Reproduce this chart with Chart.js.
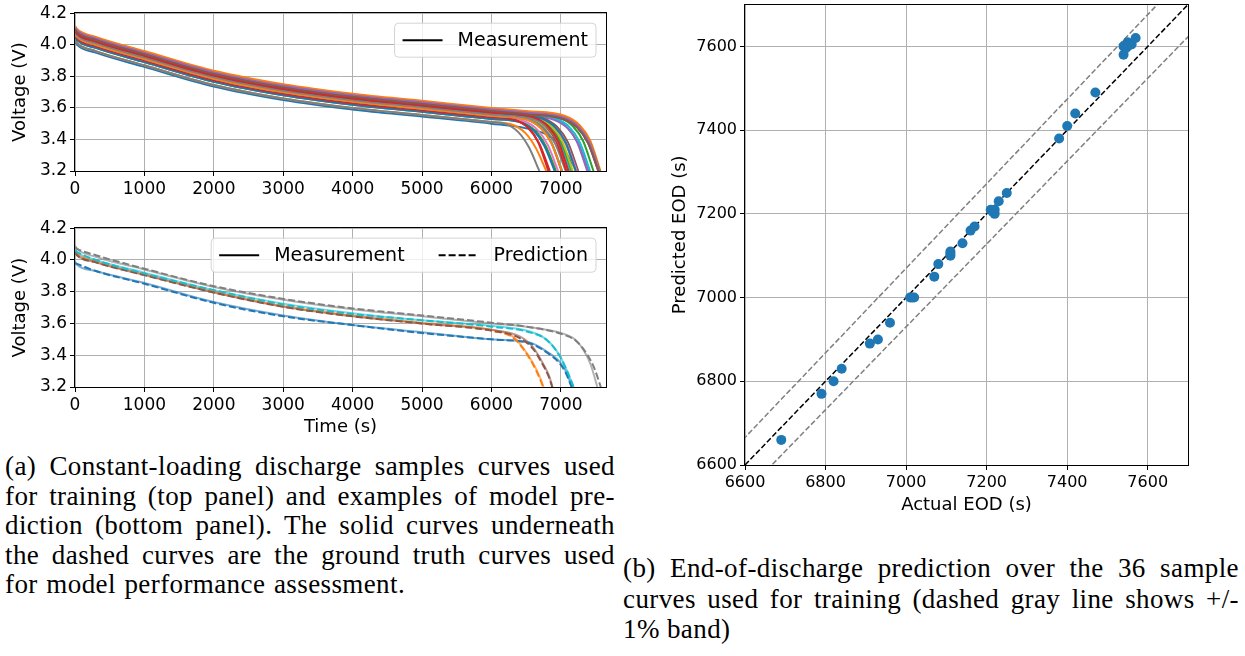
<!DOCTYPE html>
<html>
<head>
<meta charset="utf-8">
<script src="https://cdn.jsdelivr.net/npm/chart.js@4.4.1/dist/chart.umd.min.js"></script>
<style>
  html, body { margin: 0; padding: 0; background: #fff; }
  body { position: relative; width: 1245px; height: 656px; overflow: hidden; }
  canvas { position: absolute; }
  #train { left: 0; top: 0; }
  #test { left: 0; top: 215px; }
  #eod { left: 660px; top: -8px; }
  .cap { position: absolute; font-family: "Liberation Serif", "Times New Roman", serif; font-size: 27px; letter-spacing: 0.4px; line-height: 29.5px; color: #000; }
  .cap .j { text-align: justify; text-align-last: justify; }
  .cap .end { word-spacing: 1.5px; }
  #capA { left: 5px; top: 452px; width: 610px; }
  #capB { left: 623px; top: 553px; width: 616px; line-height: 30.5px; }
</style>
</head>
<body>
<canvas id="train" width="620" height="200"></canvas>
<canvas id="test" width="620" height="225"></canvas>
<canvas id="eod" width="545" height="525"></canvas>

<div class="cap" id="capA">
  <div class="j">(a) Constant-loading discharge samples curves used</div>
  <div class="j">for training (top panel) and examples of model pre-</div>
  <div class="j">diction (bottom panel). The solid curves underneath</div>
  <div class="j">the dashed curves are the ground truth curves used</div>
  <div class="end">for model performance assessment.</div>
</div>
<div class="cap" id="capB">
  <div class="j">(b) End-of-discharge prediction over the 36 sample</div>
  <div class="j">curves used for training (dashed gray line shows +/-</div>
  <div>1% band)</div>
</div>

<script>
// matplotlib default colour cycle
const tab10 = ['#1f77b4', '#ff7f0e', '#2ca02c', '#d62728', '#9467bd',
               '#8c564b', '#e377c2', '#7f7f7f', '#bcbd22', '#17becf'];

// axis ticks
const timeTicks = [0, 1000, 2000, 3000, 4000, 5000, 6000, 7000];
const voltTicks = [3.2, 3.4, 3.6, 3.8, 4.0, 4.2];
const eodTicks = [6600, 6800, 7000, 7200, 7400, 7600];

// time stamps (s) shared by the first part of every discharge curve
const headTimes = [0, 30, 300, 1000, 2000, 3000, 4000, 5000, 6000];

// training curves: voltage at headTimes, then the knee as [time, voltage]
const trainHeads = [
  [4.02, 4.00, 3.95, 3.86, 3.735, 3.65, 3.59, 3.545, 3.50],
  [4.03, 4.01, 3.96, 3.87, 3.745, 3.66, 3.60, 3.555, 3.51],
  [4.05, 4.03, 3.98, 3.89, 3.765, 3.68, 3.62, 3.575, 3.53],
  [4.07, 4.05, 4.00, 3.91, 3.785, 3.70, 3.64, 3.595, 3.55],
  [4.09, 4.07, 4.02, 3.93, 3.805, 3.72, 3.66, 3.615, 3.57],
  [4.08, 4.06, 4.01, 3.92, 3.795, 3.71, 3.65, 3.605, 3.56],
  [4.06, 4.04, 3.99, 3.90, 3.775, 3.69, 3.63, 3.585, 3.54],
  [4.03, 4.01, 3.96, 3.87, 3.745, 3.66, 3.60, 3.555, 3.51],
  [4.07, 4.05, 4.00, 3.91, 3.785, 3.70, 3.64, 3.595, 3.55],
  [4.08, 4.06, 4.01, 3.92, 3.795, 3.71, 3.65, 3.605, 3.56],
  [4.05, 4.03, 3.98, 3.89, 3.765, 3.68, 3.62, 3.575, 3.53],
  [4.12, 4.10, 4.05, 3.96, 3.835, 3.75, 3.69, 3.645, 3.60],
  [4.11, 4.09, 4.04, 3.95, 3.825, 3.74, 3.68, 3.635, 3.59],
  [4.06, 4.04, 3.99, 3.90, 3.775, 3.69, 3.63, 3.585, 3.54],
  [4.10, 4.08, 4.03, 3.94, 3.815, 3.73, 3.67, 3.625, 3.58],
  [4.10, 4.08, 4.03, 3.94, 3.815, 3.73, 3.67, 3.625, 3.58],
  [4.08, 4.06, 4.01, 3.92, 3.795, 3.71, 3.65, 3.605, 3.56],
  [4.07, 4.05, 4.00, 3.91, 3.785, 3.70, 3.64, 3.595, 3.55],
  [4.09, 4.07, 4.02, 3.93, 3.805, 3.72, 3.66, 3.615, 3.57],
  [4.07, 4.05, 4.00, 3.91, 3.785, 3.70, 3.64, 3.595, 3.55],
  [4.11, 4.09, 4.04, 3.95, 3.825, 3.74, 3.68, 3.635, 3.59],
  [4.07, 4.05, 4.00, 3.91, 3.785, 3.70, 3.64, 3.595, 3.55],
  [4.08, 4.06, 4.01, 3.92, 3.795, 3.71, 3.65, 3.605, 3.56],
  [4.09, 4.07, 4.02, 3.93, 3.805, 3.72, 3.66, 3.615, 3.57],
  [4.10, 4.08, 4.03, 3.94, 3.815, 3.73, 3.67, 3.625, 3.58],
  [4.09, 4.07, 4.02, 3.93, 3.805, 3.72, 3.66, 3.615, 3.57],
  [4.08, 4.06, 4.01, 3.92, 3.795, 3.71, 3.65, 3.605, 3.56],
  [4.08, 4.06, 4.01, 3.92, 3.795, 3.71, 3.65, 3.605, 3.56],
  [4.09, 4.07, 4.02, 3.93, 3.805, 3.72, 3.66, 3.615, 3.57],
  [4.10, 4.08, 4.03, 3.94, 3.815, 3.73, 3.67, 3.625, 3.58],
  [4.09, 4.07, 4.02, 3.93, 3.805, 3.72, 3.66, 3.615, 3.57],
  [4.115, 4.095, 4.045, 3.955, 3.83, 3.745, 3.685, 3.64, 3.595],
  [4.10, 4.08, 4.03, 3.94, 3.815, 3.73, 3.67, 3.625, 3.58],
  [4.09, 4.07, 4.02, 3.93, 3.805, 3.72, 3.66, 3.615, 3.57],
  [4.11, 4.09, 4.04, 3.95, 3.825, 3.74, 3.68, 3.635, 3.59],
  [4.10, 4.08, 4.03, 3.94, 3.815, 3.73, 3.67, 3.625, 3.58]
];

const trainTails = [
  [[6500, 3.47], [6800, 3.43], [7000, 3.36], [7110, 3.29], [7220, 3.2]],
  [[6290, 3.495], [6490, 3.44], [6640, 3.345], [6790, 3.2]],
  [[6430, 3.51], [6630, 3.455], [6780, 3.36], [6930, 3.2]],
  [[6320, 3.535], [6520, 3.48], [6670, 3.385], [6820, 3.2]],
  [[6500, 3.55], [6900, 3.525], [7100, 3.47], [7250, 3.375], [7400, 3.2]],
  [[6510, 3.535], [6710, 3.48], [6860, 3.385], [7010, 3.2]],
  [[6460, 3.517], [6660, 3.462], [6810, 3.367], [6960, 3.2]],
  [[6190, 3.50], [6390, 3.445], [6540, 3.35], [6690, 3.2]],
  [[6610, 3.52], [6810, 3.465], [6960, 3.37], [7110, 3.2]],
  [[6500, 3.54], [6640, 3.528], [6840, 3.473], [6990, 3.378], [7140, 3.2]],
  [[6410, 3.51], [6610, 3.455], [6760, 3.36], [6910, 3.2]],
  [[6500, 3.58], [7070, 3.547], [7270, 3.49], [7420, 3.395], [7570, 3.2]],
  [[6500, 3.57], [6970, 3.54], [7170, 3.485], [7320, 3.39], [7470, 3.2]],
  [[6340, 3.523], [6540, 3.468], [6690, 3.373], [6840, 3.2]],
  [[6500, 3.56], [7040, 3.528], [7240, 3.473], [7390, 3.378], [7540, 3.2]],
  [[6500, 3.56], [7050, 3.528], [7250, 3.473], [7400, 3.378], [7550, 3.2]],
  [[6500, 3.54], [6720, 3.524], [6920, 3.469], [7070, 3.374], [7220, 3.2]],
  [[6570, 3.52], [6770, 3.465], [6920, 3.37], [7070, 3.2]],
  [[6500, 3.55], [6710, 3.535], [6910, 3.48], [7060, 3.385], [7210, 3.2]],
  [[6520, 3.524], [6720, 3.469], [6870, 3.374], [7020, 3.2]],
  [[6500, 3.57], [7060, 3.537], [7260, 3.482], [7410, 3.387], [7560, 3.2]],
  [[6515, 3.524], [6715, 3.469], [6865, 3.374], [7015, 3.2]],
  [[6500, 3.54], [6660, 3.527], [6860, 3.472], [7010, 3.377], [7160, 3.2]],
  [[6580, 3.541], [6780, 3.486], [6930, 3.391], [7080, 3.2]],
  [[6500, 3.56], [6880, 3.536], [7080, 3.481], [7230, 3.386], [7380, 3.2]],
  [[6500, 3.55], [6750, 3.533], [6950, 3.478], [7100, 3.383], [7250, 3.2]],
  [[6500, 3.54], [6730, 3.524], [6930, 3.469], [7080, 3.374], [7230, 3.2]],
  [[6610, 3.53], [6810, 3.475], [6960, 3.38], [7110, 3.2]],
  [[6500, 3.55], [6670, 3.537], [6870, 3.482], [7020, 3.387], [7170, 3.2]],
  [[6500, 3.56], [6920, 3.534], [7120, 3.479], [7270, 3.384], [7420, 3.2]],
  [[6500, 3.55], [6715, 3.534], [6915, 3.479], [7065, 3.384], [7215, 3.2]],
  [[6500, 3.575], [7055, 3.542], [7255, 3.487], [7405, 3.392], [7555, 3.2]],
  [[6500, 3.56], [7045, 3.528], [7245, 3.473], [7395, 3.378], [7545, 3.2]],
  [[6610, 3.54], [6810, 3.485], [6960, 3.39], [7110, 3.2]],
  [[6500, 3.57], [7050, 3.538], [7250, 3.483], [7400, 3.388], [7550, 3.2]],
  [[6500, 3.56], [7040, 3.528], [7240, 3.473], [7390, 3.378], [7540, 3.2]]
];

// held-out examples: measurement and model prediction
const testColors = ['#1f77b4', '#ff7f0e', '#8c564b', '#17becf', '#7f7f7f'];
const testMeasured = [
  [3.99, 3.97, 3.93, 3.855, 3.735, 3.65, 3.59, 3.545, 3.50],
  [4.06, 4.04, 3.99, 3.91, 3.80, 3.71, 3.65, 3.605, 3.56],
  [4.05, 4.03, 3.985, 3.905, 3.795, 3.705, 3.645, 3.60, 3.56],
  [4.07, 4.05, 4.00, 3.92, 3.81, 3.725, 3.665, 3.62, 3.585],
  [4.09, 4.07, 4.02, 3.94, 3.83, 3.75, 3.69, 3.645, 3.60]
];
const testMeasuredTails = [
  [[6550, 3.48], [6790, 3.425], [6980, 3.36], [7070, 3.30], [7160, 3.2]],
  [[6300, 3.52], [6450, 3.45], [6600, 3.35], [6690, 3.27], [6750, 3.2]],
  [[6400, 3.52], [6600, 3.45], [6740, 3.35], [6830, 3.27], [6880, 3.2]],
  [[6550, 3.55], [6790, 3.50], [6980, 3.40], [7090, 3.30], [7180, 3.2]],
  [[6500, 3.58], [7000, 3.54], [7200, 3.50], [7330, 3.43], [7430, 3.34], [7525, 3.2]]
];
const testPredicted = [
  [3.98, 3.975, 3.93, 3.85, 3.73, 3.645, 3.59, 3.54, 3.50],
  [4.06, 4.04, 3.99, 3.91, 3.80, 3.71, 3.65, 3.60, 3.555],
  [4.05, 4.03, 3.985, 3.905, 3.795, 3.705, 3.645, 3.60, 3.555],
  [4.06, 4.05, 4.00, 3.915, 3.81, 3.72, 3.66, 3.62, 3.58],
  [4.08, 4.07, 4.03, 3.945, 3.835, 3.755, 3.695, 3.65, 3.605]
];
const testPredictedTails = [
  [[6550, 3.475], [6790, 3.42], [6980, 3.35], [7070, 3.29], [7155, 3.2]],
  [[6300, 3.515], [6450, 3.445], [6590, 3.35], [6690, 3.26], [6745, 3.2]],
  [[6400, 3.51], [6600, 3.44], [6740, 3.34], [6830, 3.26], [6875, 3.2]],
  [[6550, 3.545], [6800, 3.495], [6990, 3.39], [7100, 3.29], [7185, 3.2]],
  [[6500, 3.58], [7000, 3.535], [7220, 3.49], [7370, 3.41], [7480, 3.32], [7575, 3.2]]
];

// end of discharge (s) for the 36 training curves
const eodActual = [6690, 6790, 6820, 6840, 6910, 6930, 6960, 7010, 7015, 7020, 7070, 7080,
                   7110, 7110, 7110, 7140, 7160, 7170, 7210, 7215, 7220, 7220, 7230, 7250,
                   7380, 7400, 7420, 7470, 7540, 7540, 7545, 7550, 7550, 7555, 7560, 7570];
const eodPredicted = [6660, 6770, 6800, 6830, 6890, 6900, 6940, 7000, 7000, 7000, 7050, 7080,
                      7110, 7100, 7105, 7130, 7160, 7170, 7210, 7205, 7210, 7200, 7230, 7250,
                      7380, 7410, 7440, 7490, 7580, 7600, 7595, 7610, 7600, 7605, 7605, 7620];

// reference lines: y = x and the +/-1% band
const parityX = [6600, 7700];
const parityY = [6600, 7700];
const bandUpperX = [6500, 7700];
const bandUpperY = [6565, 7777];
const bandLowerX = [6600, 7800];
const bandLowerY = [6534, 7722];

Chart.defaults.font.family = '"DejaVu Sans", sans-serif';
Chart.defaults.color = '#000';

const toPoints = (times, row, tail) =>
  times.map((t, k) => ({ x: t, y: row[k] })).concat(tail.map(([t, v]) => ({ x: t, y: v })));

const gridStyle = () => ({ color: '#b0b0b0', lineWidth: 1, tickColor: '#000', tickLength: 5, tickWidth: 1 });
const fixedTicks = values => scale => { scale.ticks = values.map(v => ({ value: v })); };

// black box around the plot area, like matplotlib spines
const frame = {
  id: 'frame',
  afterDatasetsDraw(chart) {
    const { ctx, chartArea: a } = chart;
    ctx.save();
    ctx.strokeStyle = '#000';
    ctx.lineWidth = 1;
    ctx.strokeRect(Math.round(a.left) - 0.5, Math.round(a.top) - 0.5,
                   Math.round(a.right - a.left) + 1, Math.round(a.bottom - a.top) + 1);
    ctx.restore();
  }
};

// legend box in the upper right corner of the plot area
function boxLegend(items) {
  return {
    id: 'boxLegend',
    afterDraw(chart) {
      const { ctx, chartArea: a } = chart;
      ctx.save();
      ctx.font = '19px "DejaVu Sans"';
      const widths = items.map(it => ctx.measureText(it.label).width);
      const lineLen = 40, textGap = 15, colGap = 34, pad = 8, h = 34;
      const w = pad * 2 + widths.reduce((s, tw) => s + lineLen + textGap + tw, 0) + colGap * (items.length - 1);
      const x0 = a.right - 10 - w, y0 = a.top + 10;
      ctx.beginPath();
      ctx.roundRect(x0, y0, w, h, 4);
      ctx.fillStyle = 'rgba(255,255,255,0.8)';
      ctx.fill();
      ctx.strokeStyle = '#d4d4d4';
      ctx.lineWidth = 1;
      ctx.stroke();
      let x = x0 + pad;
      const yc = y0 + h / 2;
      items.forEach((it, i) => {
        ctx.beginPath();
        ctx.setLineDash(it.dash || []);
        ctx.strokeStyle = '#000';
        ctx.lineWidth = 2;
        ctx.moveTo(x, yc);
        ctx.lineTo(x + lineLen, yc);
        ctx.stroke();
        ctx.setLineDash([]);
        x += lineLen + textGap;
        ctx.fillStyle = '#000';
        ctx.textBaseline = 'middle';
        ctx.fillText(it.label, x, yc + 1);
        x += widths[i] + colGap;
      });
      ctx.restore();
    }
  };
}

function voltageScales(showTimeTitle, xHeight) {
  return {
    x: {
      type: 'linear', min: 0, max: 7650,
      grid: gridStyle(), border: { display: false },
      afterBuildTicks: fixedTicks(timeTicks),
      ticks: { maxRotation: 0, autoSkip: false, padding: 3, font: { size: 17 }, callback: v => String(v) },
      title: { display: showTimeTitle, text: 'Time (s)', font: { size: 18 }, padding: { top: 0, bottom: 2 } },
      afterFit: s => { s.height = xHeight; }
    },
    y: {
      type: 'linear', min: 3.2, max: 4.2,
      grid: gridStyle(), border: { display: false },
      afterBuildTicks: fixedTicks(voltTicks),
      ticks: { autoSkip: false, padding: 3, font: { size: 17 }, callback: v => v.toFixed(1) },
      title: { display: true, text: 'Voltage (V)', font: { size: 18 }, padding: { top: 10, bottom: 0 } },
      afterFit: s => { s.width = 75; }
    }
  };
}

const baseOptions = {
  responsive: false,
  animation: false,
  devicePixelRatio: 1,
  events: [],
  plugins: { legend: { display: false }, tooltip: { enabled: false } }
};

// top panel: all training curves
new Chart(document.getElementById('train'), {
  type: 'line',
  data: {
    datasets: trainHeads.map((row, i) => ({
      data: toPoints(headTimes, row, trainTails[i]),
      borderColor: tab10[i % 10],
      borderWidth: 2,
      pointRadius: 0,
      cubicInterpolationMode: 'monotone',
      order: trainHeads.length - i
    }))
  },
  options: {
    ...baseOptions,
    layout: { padding: { left: 0, right: 14, top: 12, bottom: 0 } },
    scales: voltageScales(false, 29)
  },
  plugins: [frame, boxLegend([{ label: 'Measurement' }])]
});

// bottom panel: measurement (solid) under prediction (dashed)
const testSets = [];
testMeasured.forEach((row, i) => {
  testSets.push({
    data: toPoints(headTimes, row, testMeasuredTails[i]),
    borderColor: testColors[i] + '99',
    borderWidth: 2,
    pointRadius: 0,
    cubicInterpolationMode: 'monotone',
    order: 20 - i
  });
});
testPredicted.forEach((row, i) => {
  testSets.push({
    data: toPoints(headTimes, row, testPredictedTails[i]),
    borderColor: testColors[i],
    borderWidth: 2,
    borderDash: [7, 3],
    pointRadius: 0,
    cubicInterpolationMode: 'monotone',
    order: 10 - i
  });
});

new Chart(document.getElementById('test'), {
  type: 'line',
  data: { datasets: testSets },
  options: {
    ...baseOptions,
    layout: { padding: { left: 0, right: 14, top: 12, bottom: 0 } },
    scales: voltageScales(true, 53)
  },
  plugins: [frame, boxLegend([{ label: 'Measurement' }, { label: 'Prediction', dash: [7, 3] }])]
});

// right: predicted vs actual end of discharge
const linePoints = (xs, ys) => xs.map((x, k) => ({ x, y: ys[k] }));

new Chart(document.getElementById('eod'), {
  type: 'scatter',
  data: {
    datasets: [
      {
        data: eodActual.map((a, i) => ({ x: a, y: eodPredicted[i] })),
        backgroundColor: '#1f77b4',
        borderWidth: 0,
        pointRadius: 5,
        order: 0
      },
      {
        data: linePoints(parityX, parityY),
        showLine: true, borderColor: '#000', borderWidth: 1.5, borderDash: [5.5, 2.4],
        pointRadius: 0, order: 1
      },
      {
        data: linePoints(bandUpperX, bandUpperY),
        showLine: true, borderColor: '#808080', borderWidth: 1.5, borderDash: [5.5, 2.4],
        pointRadius: 0, order: 2
      },
      {
        data: linePoints(bandLowerX, bandLowerY),
        showLine: true, borderColor: '#808080', borderWidth: 1.5, borderDash: [5.5, 2.4],
        pointRadius: 0, order: 3
      }
    ]
  },
  options: {
    ...baseOptions,
    layout: { padding: { left: 0, right: 17, top: 11, bottom: 0 } },
    scales: {
      x: {
        type: 'linear', min: 6600, max: 7700,
        grid: gridStyle(), border: { display: false },
        afterBuildTicks: fixedTicks(eodTicks),
        ticks: { maxRotation: 0, autoSkip: false, padding: 3, font: { size: 16 }, callback: v => String(v) },
        title: { display: true, text: 'Actual EOD (s)', font: { size: 18 }, padding: { top: 0, bottom: 1 } },
        afterFit: s => { s.height = 52; }
      },
      y: {
        type: 'linear', min: 6600, max: 7700,
        grid: gridStyle(), border: { display: false },
        afterBuildTicks: fixedTicks(eodTicks),
        ticks: { autoSkip: false, padding: 3, font: { size: 16 }, callback: v => String(v) },
        title: { display: true, text: 'Predicted EOD (s)', font: { size: 18 }, padding: { top: 10, bottom: 0 } },
        afterFit: s => { s.width = 85; }
      }
    }
  },
  plugins: [frame]
});
</script>
</body>
</html>
